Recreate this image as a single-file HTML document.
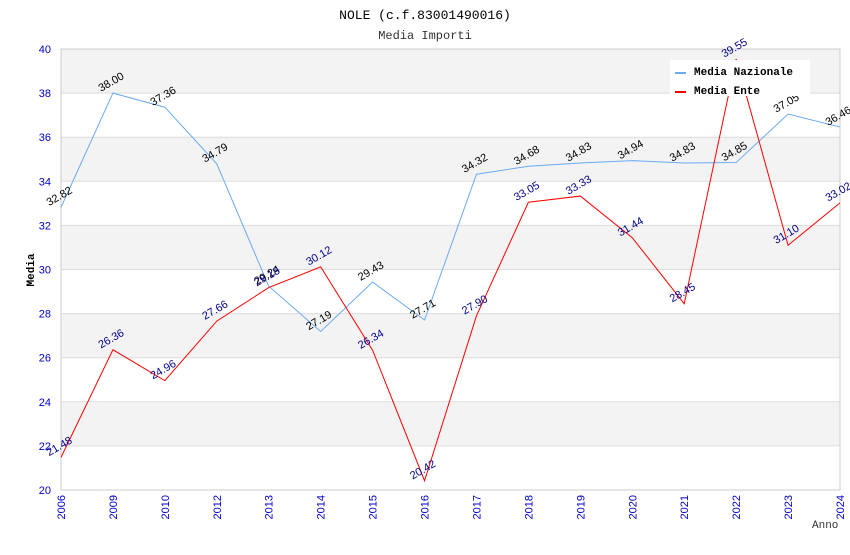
<!DOCTYPE html>
<html><head><meta charset="utf-8"><style>
body{margin:0;background:#fff;}
svg text{font-family:"Liberation Sans",sans-serif;}
.mono{font-family:"Liberation Mono",monospace;}
</style></head><body>
<svg id="chart" width="850" height="550" xmlns="http://www.w3.org/2000/svg">
<text class="mono" x="425" y="19" text-anchor="middle" font-size="13" fill="#000">NOLE (c.f.83001490016)</text>
<text class="mono" x="425" y="39" text-anchor="middle" font-size="12" fill="#333">Media Importi</text>
<g id="bands"></g><g id="axes"></g><g id="series"></g><g id="labels"></g>
<g>
<rect x="670" y="60" width="140" height="36" fill="#fff"/>
<line x1="675" y1="73" x2="686" y2="73" stroke="#6aaaf0" stroke-width="2"/>
<text class="mono" x="694" y="75" font-size="11" font-weight="bold">Media Nazionale</text>
<line x1="675" y1="92" x2="686" y2="92" stroke="#f00" stroke-width="2"/>
<text class="mono" x="694" y="94" font-size="11" font-weight="bold">Media Ente</text>
</g>
</svg>
<script>
const categories=["2006","2009","2010","2012","2013","2014","2015","2016","2017","2018","2019","2020","2021","2022","2023","2024"];
const nazionale=[32.82,38.00,37.36,34.79,29.24,27.19,29.43,27.71,34.32,34.68,34.83,34.94,34.83,34.85,37.05,36.46];
const ente=[21.48,26.36,24.96,27.66,29.18,30.12,26.34,20.42,27.90,33.05,33.33,31.44,28.45,39.55,31.10,33.02];
const yTicks=[20,22,24,26,28,30,32,34,36,38,40];
const NS="http://www.w3.org/2000/svg";
const L=61,R=840,T=49,B=490,yMin=20,yMax=40;
const x=i=>L+i*(R-L)/(categories.length-1);
const y=v=>B-(v-yMin)/(yMax-yMin)*(B-T);
function mk(tag,attrs,parent){const e=document.createElementNS(NS,tag);for(const k in attrs)e.setAttribute(k,attrs[k]);document.getElementById(parent).appendChild(e);return e;}
for(let i=0;i<yTicks.length-1;i++){
  const band=mk('rect',{x:L,y:y(yTicks[i+1]),width:R-L,height:y(yTicks[i])-y(yTicks[i+1]),fill:(i%2===1)?'#f3f3f3':'#fff'},'bands');
  
  
}
yTicks.forEach(t=>{
  const g=mk('line',{x1:L,x2:R,y1:y(t),y2:y(t),stroke:'#ddd'},'axes');
  
  
  const tx=mk('text',{x:L-10,y:y(t)+4,'text-anchor':'end','font-size':11,fill:'#00c'},'axes');
  tx.textContent=t;
  
  
});
const fr=mk('rect',{x:L,y:T,width:R-L,height:B-T,fill:'none',stroke:'#ccc'},'axes');


categories.forEach((c,i)=>{
  const tx=mk('text',{x:0,y:0,'text-anchor':'end','font-size':11,fill:'#00c',transform:`translate(${x(i)+4},${B+5}) rotate(-90)`},'axes');
  tx.textContent=c;
  
  
});
const yt=mk('text',{class:'mono',x:0,y:0,'text-anchor':'middle','font-size':11,'font-weight':'bold',transform:`translate(34,270) rotate(-90)`},'axes');
yt.textContent='Media';


const xt=mk('text',{class:'mono',x:812,y:528,'font-size':11,fill:'#333'},'axes');
xt.textContent='Anno';


function series(vals,color,name,labColor){
  const p=mk('polyline',{points:vals.map((v,i)=>x(i)+','+y(v)).join(' '),fill:'none',stroke:color,'stroke-width':1},'series');
  
  
  vals.forEach((v,i)=>{
    const t=mk('text',{x:0,y:0,'text-anchor':'middle','font-size':11,fill:labColor,transform:`translate(${x(i)},${y(v)-8}) rotate(-30)`},'labels');
    t.textContent=v.toFixed(2);
    
    
  });
}
series(nazionale,'#6aaaf0','nazionale','#000');
series(ente,'#f00','ente','#00008b');
</script>
</body></html>
